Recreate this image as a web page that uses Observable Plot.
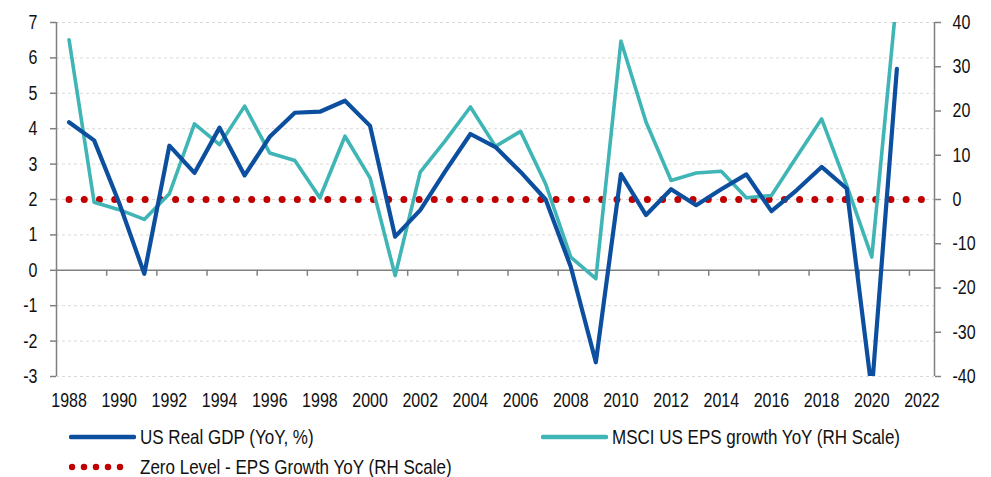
<!DOCTYPE html>
<html>
<head>
<meta charset="utf-8">
<script src="https://cdn.jsdelivr.net/npm/d3@7"></script>
<script src="https://cdn.jsdelivr.net/npm/@observablehq/plot@0.6"></script>
<style>
  html, body { margin: 0; padding: 0; background: #ffffff; }
  body { width: 991px; height: 477px; overflow: hidden; font-family: "Liberation Sans", Arial, sans-serif; color: #111111; }
  #legend { position: relative; width: 991px; height: 62px; font-size: 21px; }
  .item { position: absolute; display: flex; align-items: center; height: 24px; white-space: nowrap; }
  .item svg { display: block; margin-right: 4px; flex: none; }
  .item span { display: inline-block; transform: scaleX(0.81); transform-origin: left center; }
</style>
</head>
<body>
<div id="chart"></div>
<div id="legend"></div>
<script>
// ---- Data ----
const years = [1988, 1989, 1990, 1991, 1992, 1993, 1994, 1995, 1996, 1997, 1998, 1999, 2000,
  2001, 2002, 2003, 2004, 2005, 2006, 2007, 2008, 2009, 2010, 2011, 2012, 2013, 2014,
  2015, 2016, 2017, 2018, 2019, 2020, 2021];
const usRealGdp = [4.18, 3.67, 1.9, -0.1, 3.52, 2.75, 4.03, 2.68, 3.77, 4.45, 4.48, 4.79, 4.08,
  0.95, 1.7, 2.8, 3.85, 3.48, 2.78, 2.0, 0.1, -2.6, 2.72, 1.56, 2.29, 1.84, 2.29,
  2.71, 1.67, 2.26, 2.92, 2.31, -3.4, 5.69];
const msciEpsGrowth = [36.1, -0.6, -2.3, -4.5, 1.3, 17.1, 12.4, 21.1, 10.5, 8.8, 0.4, 14.3, 4.9,
  -17.2, 6.2, 13.3, 20.9, 12.0, 15.4, 3.5, -13.0, -17.9, 35.8, 17.5, 4.3, 6.0, 6.4,
  0.4, 0.9, 9.6, 18.2, 3.2, -13.0, 46.0];
const zeroYears = [1988, 1989, 1990, 1991, 1992, 1993, 1994, 1995, 1996, 1997, 1998, 1999, 2000,
  2001, 2002, 2003, 2004, 2005, 2006, 2007, 2008, 2009, 2010, 2011, 2012, 2013, 2014,
  2015, 2016, 2017, 2018, 2019, 2020, 2021, 2022];
const zeroLevel = [0, 0, 0, 0, 0, 0, 0, 0, 0, 0, 0, 0, 0, 0, 0, 0, 0, 0, 0, 0, 0, 0, 0, 0, 0, 0, 0, 0, 0, 0, 0, 0, 0, 0, 0];

const xLabelYears = [1988, 1990, 1992, 1994, 1996, 1998, 2000, 2002, 2004, 2006, 2008, 2010,
  2012, 2014, 2016, 2018, 2020, 2022];
const xTickMarks = [1989.5, 1991.5, 1993.5, 1995.5, 1997.5, 1999.5, 2001.5, 2003.5, 2005.5,
  2007.5, 2009.5, 2011.5, 2013.5, 2015.5, 2017.5, 2019.5, 2021.5];
const xEdges = [1987.5, 2022.5];
const leftTicks = [-3, -2, -1, 0, 1, 2, 3, 4, 5, 6, 7];
const rightTicks = [-40, -30, -20, -10, 0, 10, 20, 30, 40];

const seriesNames = ["US Real GDP (YoY, %)", "MSCI US EPS growth YoY (RH Scale)", "Zero Level - EPS Growth YoY (RH Scale)"];
const colors = { gdp: "#0d4f9f", eps: "#3fb5b5", zero: "#c00000", axis: "#808080", grid: "#d9d9d9", text: "#111111" };

// right scale (-40..40) mapped onto left scale (-3..7)
const toLeft = v => 2 + v / 8;
const fromLeft = v => Math.round((v - 2) * 8);

const gdpData = years.map((y, i) => ({ year: y, value: usRealGdp[i] }));
const epsData = years.map((y, i) => ({ year: y, value: toLeft(msciEpsGrowth[i]) }));
const zeroData = zeroYears.map((y, i) => ({ year: y, value: toLeft(zeroLevel[i]) }));

const font = '"Liberation Sans", Arial, sans-serif';
const narrow = 0.8;
const tickFont = 20;

const chart = Plot.plot({
  width: 991,
  height: 415,
  marginLeft: 56,
  marginRight: 57,
  marginTop: 22,
  marginBottom: 39,
  x: { type: "linear", domain: xEdges },
  y: { domain: [leftTicks[0], leftTicks[leftTicks.length - 1]] },
  style: { fontFamily: font, fontSize: tickFont + "px", color: colors.text, background: "#ffffff", overflow: "visible" },
  marks: [
    Plot.ruleY(leftTicks.filter(d => d !== 0), { stroke: colors.grid, strokeWidth: 1, strokeDasharray: "3,3" }),
    Plot.ruleY([0], { stroke: colors.axis, strokeWidth: 1.5 }),
    Plot.ruleX(xTickMarks, { y1: 0, y2: 0, insetBottom: -6, stroke: colors.axis, strokeWidth: 1.5 }),
    Plot.ruleX(xEdges, { stroke: colors.axis, strokeWidth: 1.5 }),
    Plot.axisY({ anchor: "left", ticks: leftTicks, tickSize: 6, tickPadding: 13, fontSize: tickFont, stroke: colors.axis, strokeWidth: 1.5, fill: colors.text, tickFormat: d => String(d), label: null }),
    Plot.axisY({ anchor: "right", ticks: rightTicks.map(toLeft), tickSize: 6, tickPadding: 12, fontSize: tickFont, stroke: colors.axis, strokeWidth: 1.5, fill: colors.text, tickFormat: d => String(fromLeft(d)), label: null }),
    Plot.axisX({ anchor: "bottom", ticks: xLabelYears, tickSize: 0, tickPadding: 16, fontSize: tickFont, fill: colors.text, tickFormat: d => String(d), label: null }),
    Plot.line(zeroData, { x: "year", y: "value", stroke: colors.zero, strokeWidth: 7, strokeLinecap: "round", strokeDasharray: "0 15.22" }),
    Plot.line(epsData, { x: "year", y: "value", stroke: colors.eps, strokeWidth: 3.6, strokeLinejoin: "round", clip: true }),
    Plot.line(gdpData, { x: "year", y: "value", stroke: colors.gdp, strokeWidth: 4.2, strokeLinejoin: "round", clip: true })
  ]
});

// Condense tick label glyphs horizontally (narrow typeface look), keeping anchors in place
chart.querySelectorAll("text").forEach(t => {
  const x = t.getAttribute("x");
  if (x != null && !isNaN(+x)) t.setAttribute("x", +x / narrow);
  t.querySelectorAll("tspan[x]").forEach(ts => {
    const tx = ts.getAttribute("x");
    if (!isNaN(+tx)) ts.setAttribute("x", +tx / narrow);
  });
  const tr = t.getAttribute("transform") || "";
  t.setAttribute("transform", (tr + ` scale(${narrow},1)`).trim());
});
document.getElementById("chart").appendChild(chart);

// ---- Legend ----
const legend = document.getElementById("legend");
function addItem(left, top, name, swatch) {
  const div = document.createElement("div");
  div.className = "item";
  div.style.left = left + "px";
  div.style.top = top + "px";
  div.appendChild(swatch);
  const span = document.createElement("span");
  span.textContent = name;
  div.appendChild(span);
  legend.appendChild(div);
}
function lineSwatch(color, w) {
  const s = d3.create("svg").attr("width", 67).attr("height", 24);
  s.append("line").attr("x1", 2).attr("x2", 65).attr("y1", 12).attr("y2", 12)
    .attr("stroke", color).attr("stroke-width", w).attr("stroke-linecap", "round");
  return s.node();
}
function dotSwatch(color) {
  const s = d3.create("svg").attr("width", 67).attr("height", 24);
  s.append("line").attr("x1", 3).attr("x2", 63).attr("y1", 12).attr("y2", 12)
    .attr("stroke", color).attr("stroke-width", 6.5).attr("stroke-linecap", "round")
    .attr("stroke-dasharray", "0 12");
  return s.node();
}
addItem(69, 10, seriesNames[0], lineSwatch(colors.gdp, 4.5));
addItem(541, 10, seriesNames[1], lineSwatch(colors.eps, 4.5));
addItem(69, 40, seriesNames[2], dotSwatch(colors.zero));
</script>
</body>
</html>
